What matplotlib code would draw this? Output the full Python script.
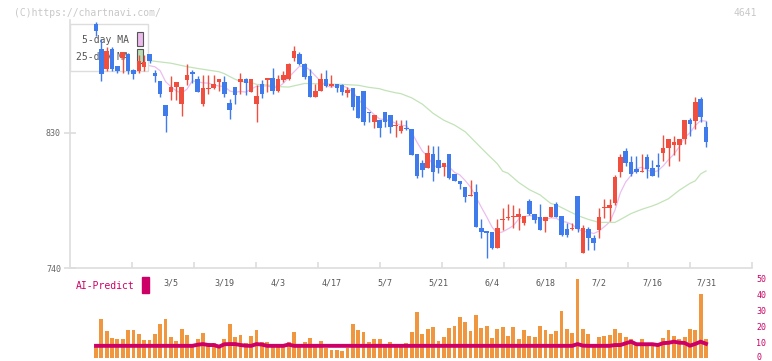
import matplotlib.pyplot as plt
import numpy as np
import pandas as pd
from matplotlib.patches import Rectangle
from matplotlib.transforms import blended_transform_factory, offset_copy

plt.rcParams['font.family'] = 'DejaVu Sans Mono'

# daily prices, 115 sessions (Feb - Jul)
opens = [902.7, 886, 872.9, 886.2, 874.4, 880.3, 882.7, 872, 871.6, 874,
         882.7, 870, 864.9, 848.4, 857.6, 860.4, 849.3, 865.3, 870.5, 866,
         849.1, 859.5, 859.8, 864, 864, 850.2, 860.4, 864.2, 866, 857.1,
         849.3, 862.7, 865.3, 866.7, 858, 865.3, 865.8, 880.2, 882.7, 876,
         868, 854.2, 858.2, 866, 861.6, 862.7, 862, 856.4, 859.8, 854.7,
         858, 844.2, 837.6, 838.7, 844, 842, 834.5, 831.6, 832.8, 832.7,
         815.8, 809.8, 806.4, 815.8, 812, 807.6, 815.8, 802.4, 798, 793.8,
         787.8, 790.4, 766.4, 764.7, 763.8, 753.6, 772, 773.6, 773.8, 773.8,
         770.2, 784.7, 776, 773.8, 771.6, 774.2, 782.7, 774.7, 765.8, 765.8,
         788, 749.8, 765.8, 759.8, 765.3, 779.8, 779.8, 783.6, 804.2, 818,
         810.9, 806, 804.2, 814.2, 806.4, 808.4, 816.4, 819.8, 822, 822,
         825.8, 838.7, 838.2, 852.7, 833.8]
highs = [904, 892.9, 887.1, 887.6, 874.4, 884.2, 883, 872.5, 881.8, 882,
         882.7, 872.2, 864.9, 848.4, 867.8, 864, 860.7, 876, 872, 868,
         868.7, 868.7, 868.7, 866, 868.2, 852.4, 860.4, 870.2, 866.9, 866,
         862, 865.3, 866.7, 873.1, 868.7, 871.3, 876.9, 888.2, 884, 876.4,
         872.7, 862.7, 869.8, 872, 868.7, 862.7, 862.7, 860.4, 859.8, 854.7,
         858, 844.2, 842, 838.7, 844, 842, 838.7, 838.7, 838.7, 832.7,
         815.8, 812, 822, 821.6, 821.6, 809.8, 815.8, 802.4, 798, 793.8,
         798.7, 795.8, 772.4, 764.7, 763.8, 772.7, 779.8, 782.7, 782, 779.8,
         774.7, 785.8, 776, 782.7, 773.8, 780.4, 784, 774.7, 770.2, 770.2,
         788, 768.7, 767.6, 762, 780.2, 786, 786, 802, 816, 820.2,
         814.7, 814.7, 816, 816, 812, 816.4, 828.7, 825.8, 828, 825.8,
         838.7, 839.8, 854.2, 854.2, 838]
lows = [894.4, 864.4, 871.6, 871.1, 870, 870, 869, 866, 870, 871,
        876.7, 864, 853.8, 830.4, 852.3, 852.3, 841.6, 862.2, 863.5, 857,
        848, 856, 859.3, 858, 854.2, 839.3, 849.3, 855.8, 855.3, 857.1,
        837.1, 853.1, 857.6, 856, 857.6, 864.2, 865.3, 878, 875.3, 865.8,
        854.2, 854.2, 858.2, 860.9, 860.9, 857.1, 855.3, 854.2, 845.3, 840.2,
        835.3, 837.6, 833.6, 827.6, 834.2, 829.8, 827.6, 829.8, 832, 815.3,
        800.2, 800.9, 806.4, 798.2, 803.1, 801.6, 799.3, 798, 792.7, 784.2,
        787.8, 767.6, 759.8, 746.4, 752.7, 753.6, 765.3, 772, 766.4, 765.3,
        768.7, 775.3, 769.8, 765.3, 764.2, 774.2, 773.8, 761.3, 760.4, 765.3,
        764.2, 749.8, 752, 752, 760.2, 773.6, 771.6, 782, 800.4, 808,
        801.3, 803.6, 804.2, 800.2, 801.6, 800.4, 811.6, 808, 815.3, 811.6,
        822.4, 828.2, 832.4, 837.6, 820.4]
closes = [897.8, 869.6, 884.9, 872.9, 871.6, 884, 871.5, 869.3, 877.8, 877.5,
          878.2, 867.8, 856, 841.6, 860.7, 864, 860.7, 868.9, 869.5, 857.6,
          860.2, 860, 862.7, 866, 856, 845.3, 855.3, 866, 863.6, 866,
          854.7, 856, 866.7, 858, 866, 868.7, 876, 884.9, 876, 867.6,
          854.2, 858, 866, 861.6, 862.7, 859.8, 857.6, 858.7, 847.6, 840.2,
          837.6, 843.5, 842, 833.6, 837.6, 834.2, 835, 834.7, 832.5, 815.3,
          801.6, 805.3, 816.4, 804.2, 806.4, 809.8, 800.2, 798, 795.8, 787.6,
          788, 767.6, 764.2, 763.6, 753.6, 766.7, 772.4, 774, 774.2, 776,
          774.7, 775.8, 772, 765.3, 773.8, 780.4, 774.2, 762, 762, 766,
          765.8, 766.4, 760.2, 756.4, 774.2, 780.4, 782, 800.4, 813.8, 810.2,
          802.4, 804.2, 804.9, 805.8, 801.6, 807.6, 820.2, 825.8, 824.2, 825.8,
          838.7, 835.8, 850.4, 840.4, 824.2]

# 25-day moving average (session index, value)
ma25_idx = [10, 14, 17, 19, 23, 24, 25, 26, 27, 29, 30, 32, 34, 36, 38, 39, 41,
            46, 49, 51, 53, 54, 56, 57, 59, 61, 63, 65, 67, 69, 71, 73, 75, 76,
            77, 79, 81, 83, 85, 86, 88, 90, 92, 94, 97, 98, 100, 102, 104, 105,
            107, 109, 111, 112, 113, 114]
ma25 = [878.2, 876.5, 874.2, 873, 870.8, 869.5, 867.6, 865.8, 864.4, 863.6,
        862.4, 862, 860.9, 860.6, 862.2, 863, 862.8, 862.4, 861.8, 860.4,
        859.5, 858.4, 856.8, 856.2, 853.4, 849.2, 843.1, 838.5, 835.3, 830.8,
        823.6, 816.4, 809.5, 804.5, 803.2, 797, 792.2, 788.7, 783, 782.1,
        778.5, 775, 772.4, 770.4, 770.4, 772.3, 776.3, 779.1, 781.4, 782.8,
        786.2, 791.8, 796.4, 798.1, 802.7, 804.7]

volume = [7.0, 24.4, 17.1, 12.7, 11.9, 11.9, 17.5, 17.5, 15.2, 11.2,
          11.2, 15.2, 21.5, 24.4, 13.3, 10.8, 18.1, 14.4, 7.0, 11.9,
          15.8, 9.4, 9.4, 7.0, 11.9, 21.5, 13.3, 14.4, 9.4, 13.8,
          17.5, 10.2, 10.2, 8.8, 7.0, 7.0, 10.2, 16.5, 7.0, 10.2,
          12.7, 7.0, 10.8, 6.2, 5.0, 5.0, 4.4, 6.2, 21.5, 17.5,
          16.5, 10.2, 11.9, 11.9, 8.8, 10.2, 8.8, 8.8, 9.4, 16.5,
          28.9, 15.0, 18.1, 19.6, 10.8, 13.3, 18.8, 20.2, 25.6, 22.7,
          17.1, 26.9, 18.8, 20.0, 12.7, 18.1, 19.4, 13.8, 19.4, 11.9,
          17.5, 13.8, 13.3, 20.0, 17.5, 15.0, 16.9, 29.4, 18.1, 15.8,
          49.4, 18.1, 15.0, 7.5, 13.1, 13.8, 14.4, 18.1, 15.8, 13.3,
          11.9, 9.4, 11.9, 7.5, 7.5, 7.5, 12.7, 17.5, 13.8, 11.9,
          13.1, 18.1, 17.5, 40.0, 11.9]

ai_predict = [7.6, 7.6, 7.6, 7.6, 7.6, 7.6, 7.6, 7.6, 7.6, 7.6,
              7.6, 7.6, 7.6, 7.6, 7.6, 7.6, 7.6, 7.6, 7.6, 8.3,
              8.7, 8.1, 8.1, 7.1, 8.6, 8.7, 8.7, 8.1, 7.7, 7.6,
              8.7, 8.4, 7.6, 7.6, 7.6, 7.6, 8.4, 7.6, 7.6, 7.6,
              7.6, 7.6, 7.6, 7.6, 7.6, 7.6, 7.6, 7.6, 7.6, 7.6,
              7.6, 7.6, 7.6, 7.6, 7.6, 7.6, 7.6, 7.6, 7.6, 7.6,
              7.6, 7.6, 7.6, 7.6, 7.6, 7.6, 7.6, 7.6, 7.6, 7.6,
              7.6, 7.6, 7.6, 7.6, 7.6, 7.6, 7.6, 7.6, 7.6, 7.6,
              7.6, 7.6, 7.6, 7.6, 7.6, 7.6, 7.6, 7.6, 7.6, 7.6,
              8.7, 7.7, 7.6, 7.6, 7.6, 7.6, 7.6, 8.1, 8.1, 9.2,
              10.2, 8.6, 8.6, 8.6, 8.6, 8.1, 9.3, 9.5, 10.2, 9.6,
              9.4, 7.7, 8.8, 10.2, 8.9]

date_idx = [14, 24, 34, 44, 54, 64, 74, 84, 94, 104, 114]
date_labels = ['3/5', '3/19', '4/3', '4/17', '5/7', '5/21', '6/4', '6/18',
               '7/2', '7/16', '7/31']
vol_ticks = [0, 10, 20, 30, 40, 50]

RED = '#f04e3e'
BLUE = '#3f7beb'
CRIMSON = '#cc0066'

o = np.array(opens)
c = np.array(closes)
x = np.arange(len(closes))
cols = np.where(c >= o, RED, BLUE)

W, H = 772, 361
fig = plt.figure(figsize=(W / 100, H / 100), dpi=100)
axv = fig.add_axes([70 / W, 3 / H, 682 / W, 84 / H])
ax = fig.add_axes([70 / W, 93 / H, 682 / W, 248 / H])
ax.patch.set_alpha(0)
axv.patch.set_alpha(0)

xmin, xmax = -4.86, 122.6

# moving averages (under the legend box)
ma5 = pd.Series(closes).rolling(5).mean()
ax.plot(x, ma5, color='#ebbdf0', lw=0.9, zorder=1)
ax.plot(ma25_idx, ma25, color='#c2e3b8', lw=0.9, zorder=1)

# candles
ax.vlines(x, lows, highs, colors=cols, lw=1, zorder=4)
ax.bar(x, np.maximum(np.abs(c - o), 0.7), bottom=np.minimum(o, c), width=0.85,
       color=cols, lw=0, zorder=4)

ax.set_xlim(xmin, xmax)
ax.set_ylim(740, 905.3)
for s in ['top', 'right']:
    ax.spines[s].set_visible(False)
for s in ['left', 'bottom']:
    ax.spines[s].set_color('#dddddd')
    ax.spines[s].set_linewidth(1.2)
ax.set_xticks(np.linspace(xmin, xmax, 12)[1:])
ax.set_xticklabels([])
ax.tick_params(axis='x', direction='in', length=4, color='#dddddd', width=1.2)
ax.set_yticks([740, 830])
ax.tick_params(axis='y', direction='inout', length=9, color='#dddddd', width=1.2,
               labelsize=6, labelcolor='#666666', pad=2)

tr = blended_transform_factory(ax.transData, ax.transAxes)
for i, lab in zip(date_idx, date_labels):
    ax.text(i, -0.06, lab, transform=tr, ha='center', va='center',
            fontsize=6, color='#555555', clip_on=False)

# legend box
ax.add_patch(Rectangle((0, 0.794), 0.114, 0.19, transform=ax.transAxes,
                       facecolor='white', edgecolor='#dddddd', lw=1, zorder=2))
ax.text(0.0865, 0.919, '5-day MA', transform=ax.transAxes, ha='right', va='center',
        fontsize=7, color='#555555', zorder=3)
ax.text(0.0865, 0.851, '25-day MA', transform=ax.transAxes, ha='right', va='center',
        fontsize=7, color='#555555', zorder=3)
ax.add_patch(Rectangle((0.0982, 0.8944), 0.0084, 0.0589, transform=ax.transAxes,
                       facecolor='#ebbbeb', edgecolor='#555555', lw=0.8, zorder=3))
ax.add_patch(Rectangle((0.0982, 0.8246), 0.0084, 0.0589, transform=ax.transAxes,
                       facecolor='#bcdcb4', edgecolor='#555555', lw=0.8, zorder=3))

# volume / AI-Predict panel
axv.bar(x, volume, width=0.72, color='#f0963e', lw=0)
axv.plot(x, ai_predict, color=CRIMSON, lw=2.8)
axv.set_xlim(xmin, xmax)
axv.set_ylim(0, 52.5)
for s in axv.spines.values():
    s.set_visible(False)
axv.set_xticks([])
axv.set_yticks([])
trv = blended_transform_factory(axv.transAxes, axv.transData)
for v in vol_ticks:
    t = trv if v > 0 else offset_copy(trv, fig=fig, y=2, units='dots')
    axv.text(1.006, v, str(v), transform=t, ha='left', va='center_baseline',
             fontsize=6, color=CRIMSON, clip_on=False)

fig.text(76 / W, 1 - 286 / H, 'AI-Predict', color=CRIMSON, fontsize=7,
         ha='left', va='center')
fig.patches.append(Rectangle((142 / W, 1 - 293 / H), 7 / W, 16 / H,
                             transform=fig.transFigure, color=CRIMSON))

fig.text(14 / W, 1 - 12.5 / H, '(C)https://chartnavi.com/', color='#c8c8c8',
         fontsize=7, ha='left', va='center')
fig.text(757 / W, 1 - 12.5 / H, '4641', color='#c8c8c8', fontsize=7,
         ha='right', va='center')

plt.savefig('out.png', dpi=100)
